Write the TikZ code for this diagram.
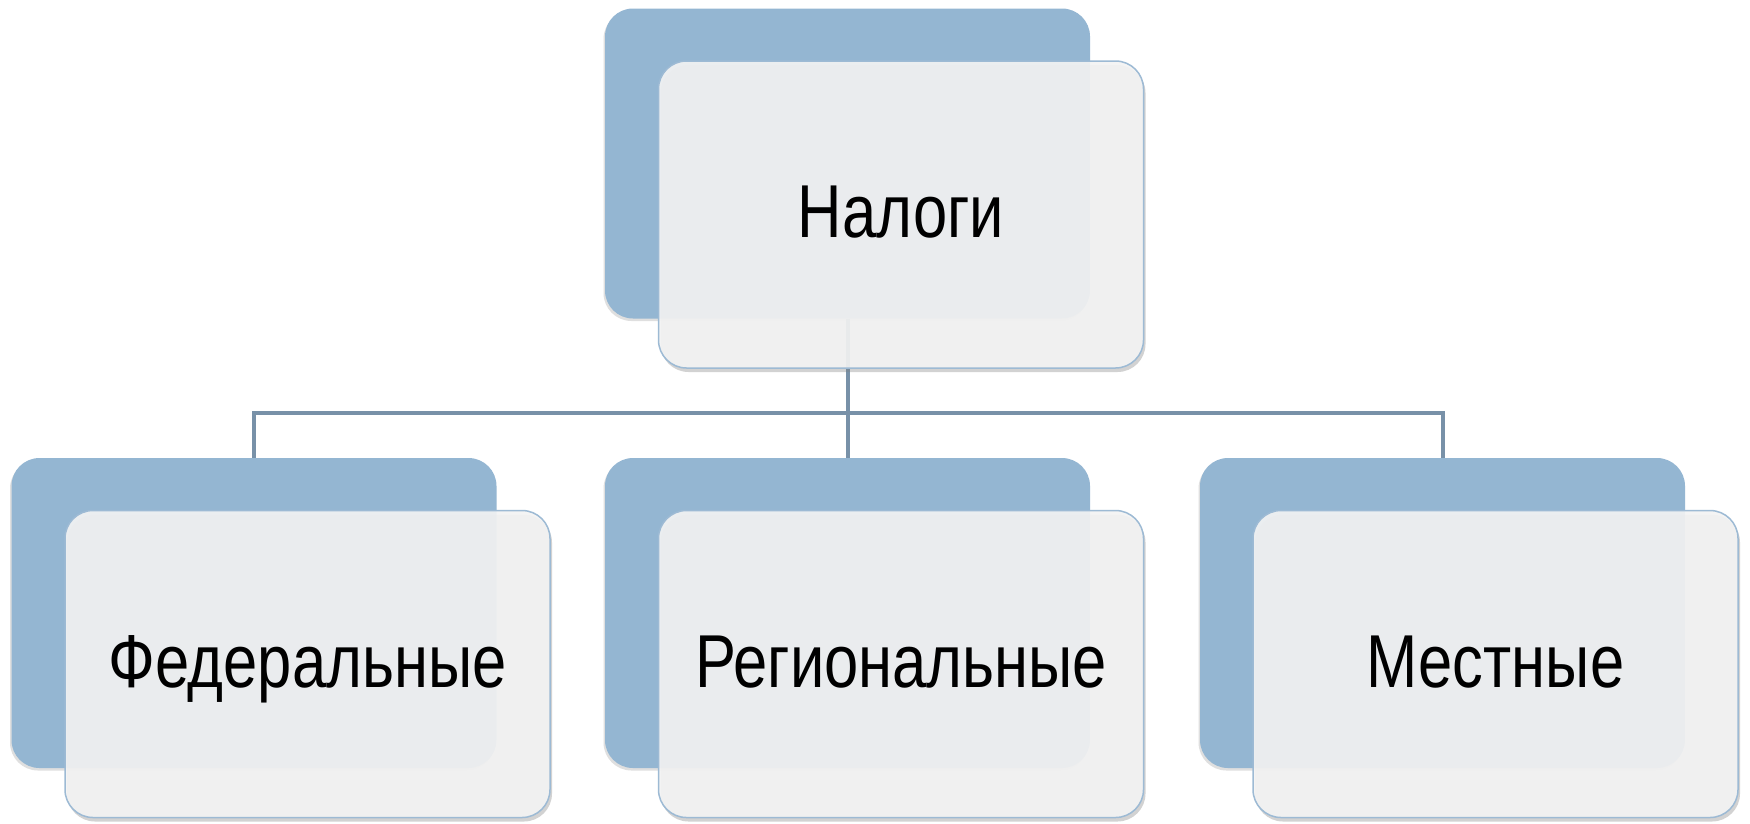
\documentclass[tikz,border=0pt]{standalone}
\usepackage{fontspec}
\setmainfont{Liberation Sans}[FakeStretch=0.82]
\usetikzlibrary{shadows}
\definecolor{backblue}{HTML}{94B6D2}
\definecolor{conncol}{HTML}{7891A8}
\definecolor{frontfill}{HTML}{F4F4F4}
\definecolor{frontedge}{HTML}{9DBAD4}
\tikzset{
  backbox/.style={draw=none, fill=backblue, rounded corners=28pt,
    minimum width=485pt, minimum height=310pt, inner sep=0pt,
    drop shadow={shadow xshift=-1.5pt, shadow yshift=-2.5pt, opacity=0.25}},
  frontbox/.style={draw=frontedge, line width=1.5pt, fill=frontfill,
    fill opacity=0.91, text opacity=1, rounded corners=28pt,
    minimum width=485pt, minimum height=307pt, inner sep=0pt,
    text height=46pt, text depth=0pt,
    font=\fontsize{75}{80}\selectfont,
    drop shadow={shadow xshift=2pt, shadow yshift=-4pt, opacity=0.35}},
  conn/.style={draw=conncol, line width=4pt}
}
\begin{document}
\begin{tikzpicture}[x=1pt,y=-1pt]
  \fill[white] (0,0) rectangle (1750,823);
  \useasboundingbox (0,0) rectangle (1750,823);
  % back boxes
  \node[backbox] (tb) at (847.5,163.5) {};
  \node[backbox] (lb) at (254,613) {};
  \node[backbox] (mb) at (847.5,613) {};
  \node[backbox] (rb) at (1442.5,613) {};
  % connectors
  \coordinate (hub) at (847.5,413);
  \draw[conn] (tb.south) -- (mb.north);
  \draw[conn] (hub) -| (lb.north);
  \draw[conn] (hub) -| (rb.north);
  % front boxes
  \node[frontbox] (tf) at (901,214.5) {Налоги};
  \node[frontbox] (lf) at (307.5,664) {Федеральные};
  \node[frontbox] (mf) at (901,664) {Региональные};
  \node[frontbox] (rf) at (1495.5,664) {Местные};
\end{tikzpicture}
\end{document}
